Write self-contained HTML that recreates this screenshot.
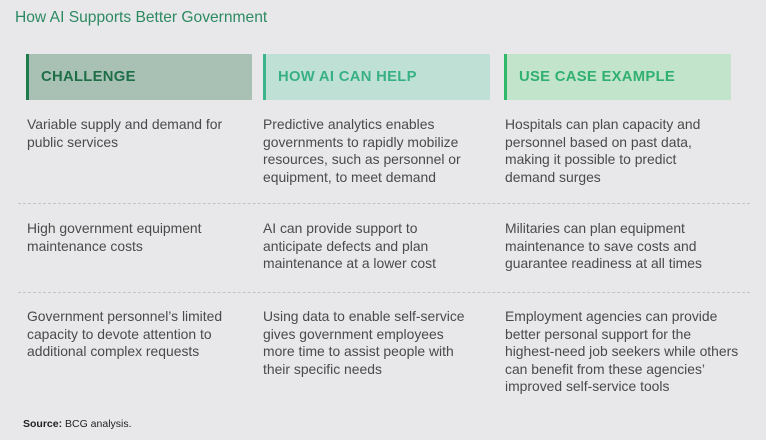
<!DOCTYPE html>
<html><head><style>
body{margin:0;width:768px;height:443px;background:#fff;overflow:hidden;font-family:"Liberation Sans",sans-serif;}
#bg{position:absolute;left:0;top:0;width:766px;height:440px;background:#e8e8ea;}
.t{position:absolute;color:#4a4a4a;font-size:13.9px;line-height:17.5px;white-space:nowrap;}
.h{position:absolute;top:54px;height:46px;font-weight:bold;font-size:14.8px;line-height:46px;padding-left:12px;box-sizing:border-box;letter-spacing:0.3px;}
.d{position:absolute;left:18px;width:732px;border-top:1px dashed #c4c4c6;}
</style></head><body>
<div id="bg"></div>
<div style="position:absolute;left:15px;top:9px;font-size:15.6px;color:#2c8a62;">How AI Supports Better Government</div>
<div class="h" style="left:26px;width:226px;background:#a9c1b4;border-left:3px solid #1f7a4c;color:#1e6e48;">CHALLENGE</div>
<div class="h" style="left:263px;width:227px;background:#bfe0d4;border-left:3px solid #3ab58a;color:#38b086;">HOW AI CAN HELP</div>
<div class="h" style="left:504px;width:227px;background:#c2e4ca;border-left:3px solid #2fb86a;color:#2fb071;">USE CASE EXAMPLE</div>

<div class="t" style="left:27px;top:116px;">Variable supply and demand for<br>public services</div>
<div class="t" style="left:263px;top:116px;">Predictive analytics enables<br>governments to rapidly mobilize<br>resources, such as personnel or<br>equipment, to meet demand</div>
<div class="t" style="left:505px;top:116px;">Hospitals can plan capacity and<br>personnel based on past data,<br>making it possible to predict<br>demand surges</div>
<div class="d" style="top:203px;"></div>
<div class="t" style="left:27px;top:220px;">High government equipment<br>maintenance costs</div>
<div class="t" style="left:263px;top:220px;">AI can provide support to<br>anticipate defects and plan<br>maintenance at a lower cost</div>
<div class="t" style="left:505px;top:220px;">Militaries can plan equipment<br>maintenance to save costs and<br>guarantee readiness at all times</div>
<div class="d" style="top:292px;"></div>
<div class="t" style="left:27px;top:308px;">Government personnel’s limited<br>capacity to devote attention to<br>additional complex requests</div>
<div class="t" style="left:263px;top:308px;">Using data to enable self-service<br>gives government employees<br>more time to assist people with<br>their specific needs</div>
<div class="t" style="left:505px;top:308px;">Employment agencies can provide<br>better personal support for the<br>highest-need job seekers while others<br>can benefit from these agencies’<br>improved self-service tools</div>
<div style="position:absolute;left:23px;top:418px;font-size:10.5px;color:#222;"><b>Source:</b> BCG analysis.</div>
</body></html>
